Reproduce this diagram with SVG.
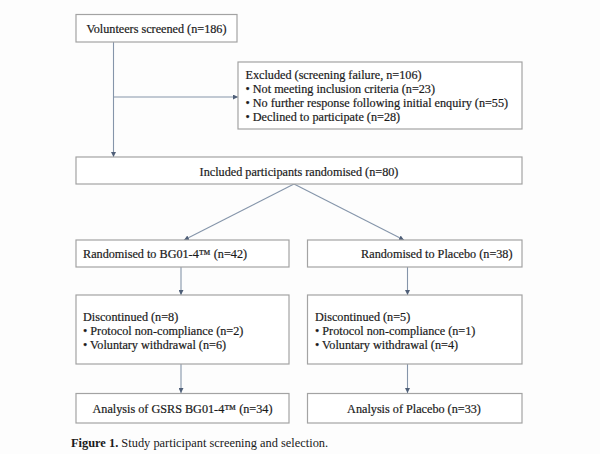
<svg xmlns="http://www.w3.org/2000/svg" width="600" height="454" viewBox="0 0 600 454">
<style>
.box{fill:#ffffff;stroke:#a3a3a3;stroke-width:1.2}
.t{font-family:"Liberation Serif","Times New Roman",serif;font-size:12.2px;fill:#1a1a1a;stroke:#1a1a1a;stroke-width:0.2}
.b{font-weight:bold}
.c{text-anchor:middle}
.ln{fill:none;stroke:#8595aa;stroke-width:1.1}
</style>
<defs>
<marker id="ah" viewBox="0 0 6 6" refX="6" refY="3" markerWidth="5" markerHeight="5" markerUnits="userSpaceOnUse" orient="auto">
<path d="M0,0 L6,3 L0,6 z" fill="#4f5f78"/>
</marker>
</defs>
<rect width="600" height="454" fill="#fdfdfd"/>
<g id="connectors">
<path class="ln" d="M113.5,42 V157" marker-end="url(#ah)"/>
<path class="ln" d="M113.5,97 H238" marker-end="url(#ah)"/>
<path class="ln" d="M294,184 L184,240" marker-end="url(#ah)"/>
<path class="ln" d="M294,184 L404,240" marker-end="url(#ah)"/>
<path class="ln" d="M181,267 V295" marker-end="url(#ah)"/>
<path class="ln" d="M407.5,267 V295" marker-end="url(#ah)"/>
<path class="ln" d="M181,364 V393" marker-end="url(#ah)"/>
<path class="ln" d="M407.5,364 V393" marker-end="url(#ah)"/>
</g>
<g id="screened">
<rect class="box" x="76" y="14.5" width="161" height="27.5"/>
<text class="t" x="86.5" y="33">Volunteers screened (n=186)</text>
</g>
<g id="excluded">
<rect class="box" x="238" y="62" width="284" height="67"/>
<text class="t" x="245.5" y="79">Excluded (screening failure, n=106)</text>
<text class="t" x="245.5" y="93">• Not meeting inclusion criteria (n=23)</text>
<text class="t" x="245.5" y="107">• No further response following initial enquiry (n=55)</text>
<text class="t" x="245.5" y="121">• Declined to participate (n=28)</text>
</g>
<g id="included">
<rect class="box" x="76" y="157" width="446" height="27"/>
<text class="t c" x="299" y="175.5">Included participants randomised (n=80)</text>
</g>
<g id="rand-bg">
<rect class="box" x="76" y="240" width="213" height="27"/>
<text class="t" x="83" y="257.5">Randomised to BG01-4™ (n=42)</text>
</g>
<g id="rand-placebo">
<rect class="box" x="307.5" y="240" width="214.5" height="27"/>
<text class="t" x="512.5" y="257.5" text-anchor="end">Randomised to Placebo (n=38)</text>
</g>
<g id="disc-bg">
<rect class="box" x="76" y="295" width="213" height="69"/>
<text class="t" x="83" y="320.5">Discontinued (n=8)</text>
<text class="t" x="83" y="334.5">• Protocol non-compliance (n=2)</text>
<text class="t" x="83" y="348.5">• Voluntary withdrawal (n=6)</text>
</g>
<g id="disc-placebo">
<rect class="box" x="307.5" y="295" width="214.5" height="69"/>
<text class="t" x="315" y="320.5">Discontinued (n=5)</text>
<text class="t" x="315" y="334.5">• Protocol non-compliance (n=1)</text>
<text class="t" x="315" y="348.5">• Voluntary withdrawal (n=4)</text>
</g>
<g id="analysis-bg">
<rect class="box" x="76" y="393.5" width="213" height="29.5"/>
<text class="t c" x="182.5" y="412.5">Analysis of GSRS BG01-4™ (n=34)</text>
</g>
<g id="analysis-placebo">
<rect class="box" x="307.5" y="393.5" width="214.5" height="29.5"/>
<text class="t c" x="414" y="412.5">Analysis of Placebo (n=33)</text>
</g>
<g id="caption">
<text class="t" x="71" y="447" style="font-size:12.4px;stroke-width:0"><tspan class="b">Figure 1.</tspan> Study participant screening and selection.</text>
</g>
</svg>
